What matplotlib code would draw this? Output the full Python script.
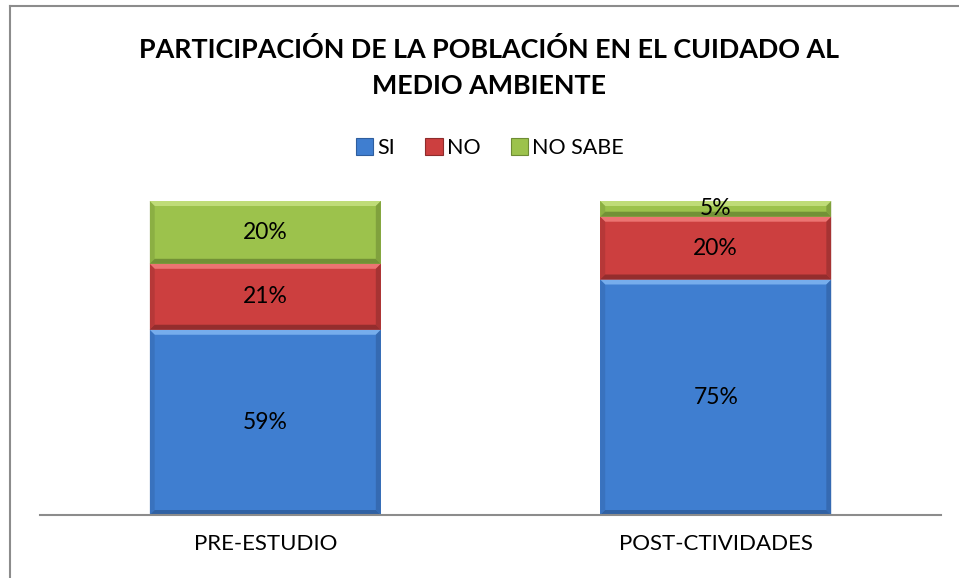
import matplotlib
matplotlib.use("Agg")
import matplotlib.pyplot as plt
from matplotlib.patches import Polygon, Patch
from matplotlib.lines import Line2D
from matplotlib.transforms import IdentityTransform
import numpy as np

categories = ["PRE-ESTUDIO", "POST-CTIVIDADES"]
series_names = ["SI", "NO", "NO SABE"]
si = [59, 75]
no = [21, 20]
no_sabe = [20, 5]
title = "PARTICIPACIÓN DE LA POBLACIÓN EN EL CUIDADO AL\nMEDIO AMBIENTE"

colors = ["#3F7ED0", "#CC3F3F", "#9CC24C"]
light = ["#7DB3F0", "#F07A78", "#C4E07E"]
dark = ["#2F5E9E", "#8E2C2C", "#6E8C34"]

plt.rcParams['font.family'] = ['Lato', 'DejaVu Sans']

W, H = 959, 578
fig = plt.figure(figsize=(W / 100, H / 100), dpi=100)
ax = fig.add_axes([40 / W, 1 - 515 / H, (941 - 40) / W, (515 - 201) / H])

x = np.arange(len(categories))
width = 0.513
bottoms = np.zeros(len(categories))
series = [si, no, no_sabe]
ax.set_xlim(-0.5, len(categories) - 0.5)
ax.set_ylim(0, 100)

bevel = 5
ident = IdentityTransform()


def add_poly(pts, fc, alpha=1.0):
    p = Polygon(pts, closed=True, transform=ident, facecolor=fc, edgecolor="none",
                zorder=3, alpha=alpha, clip_on=False)
    ax.add_artist(p)


for i, vals in enumerate(series):
    bars = ax.bar(x, vals, width, bottom=bottoms, color=colors[i], edgecolor="none", zorder=2)
    for b, v, bt in zip(bars, vals, bottoms):
        (x0, y0) = ax.transData.transform((b.get_x(), b.get_y()))
        (x1, y1) = ax.transData.transform((b.get_x() + b.get_width(), b.get_y() + b.get_height()))
        bv = min(bevel, (y1 - y0) / 2.5)
        add_poly([(x0, y1), (x1, y1), (x1 - bv, y1 - bv), (x0 + bv, y1 - bv)], light[i], 0.9)
        add_poly([(x0, y0), (x1, y0), (x1 - bv, y0 + bv), (x0 + bv, y0 + bv)], dark[i], 0.9)
        add_poly([(x0, y0), (x0, y1), (x0 + bv, y1 - bv), (x0 + bv, y0 + bv)], dark[i], 0.35)
        add_poly([(x1, y0), (x1, y1), (x1 - bv, y1 - bv), (x1 - bv, y0 + bv)], dark[i], 0.6)
        ax.text(b.get_x() + b.get_width() / 2, bt + v / 2, f"{v}%", ha="center", va="center",
                fontsize=16.5, color="black", zorder=5)
    bottoms = bottoms + np.array(vals)

ax.set_xticks(x)
ax.set_xticklabels(categories, fontsize=16)
ax.tick_params(axis="x", length=0, pad=14)
ax.set_yticks([])
for s in ["left", "right", "top"]:
    ax.spines[s].set_visible(False)
ax.spines["bottom"].set_color("#8C8C8C")
ax.spines["bottom"].set_linewidth(1.5)
ax.spines["bottom"].set_zorder(6)

fig.text(489 / W, 1 - 67 / H, title, ha="center", va="center", fontsize=19.4, fontweight="bold",
         linespacing=1.6)

handles = [Patch(facecolor=c, edgecolor=d, linewidth=0.8) for c, d in zip(colors, dark)]
fig.legend(handles, series_names, loc="center", bbox_to_anchor=(490 / W, 1 - 148 / H), ncol=3,
           frameon=False, fontsize=15.5, handlelength=0.8, handleheight=0.8, handletextpad=0.2,
           columnspacing=1.4)

# outer frame (left and top edges visible)
fig.add_artist(Line2D([10 / W, 10 / W], [0, 1 - 6 / H], color="#8C8C8C", linewidth=1.5, transform=fig.transFigure))
fig.add_artist(Line2D([10 / W, 1], [1 - 6 / H, 1 - 6 / H], color="#8C8C8C", linewidth=1.5, transform=fig.transFigure))

fig.savefig("out.png", dpi=100)
